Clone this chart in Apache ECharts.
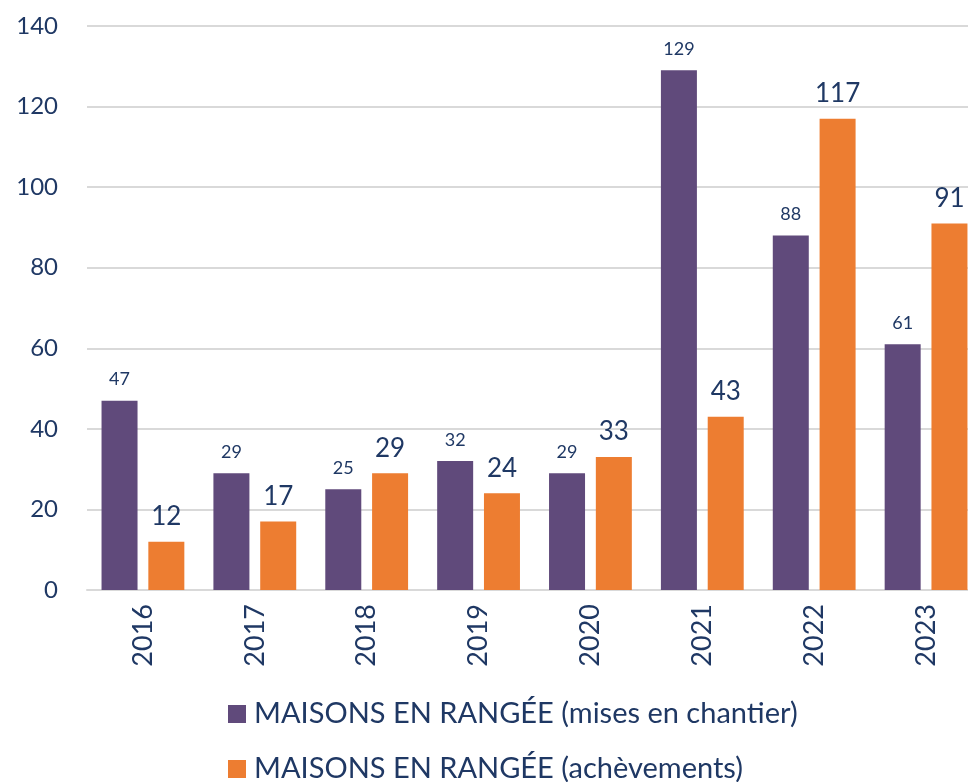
<!DOCTYPE html>
<html>
<head>
<meta charset="utf-8">
<script src="https://cdn.jsdelivr.net/npm/echarts@6/dist/echarts.min.js"></script>
<style>
  html, body { margin: 0; padding: 0; background: #fff; overflow: hidden; }
  #chart { width: 982px; height: 782px; }
</style>
</head>
<body>
<div id="chart"></div>
<script>
var years = ["2016", "2017", "2018", "2019", "2020", "2021", "2022", "2023"];
var misesEnChantier = [47, 29, 25, 32, 29, 129, 88, 61];
var achevements = [12, 17, 29, 24, 33, 43, 117, 91];
var yTicks = [0, 20, 40, 60, 80, 100, 120, 140];
var seriesNames = ["MAISONS EN RANGÉE (mises en chantier)", "MAISONS EN RANGÉE (achèvements)"];

var navy = "#1F3864";
var font = "Lato";

// one legend per line, so the two rows sit exactly where they should
function legendFor(name, top) {
  return {
    orient: "vertical",
    left: 223,
    top: top,
    itemWidth: 18,
    itemHeight: 18,
    icon: "rect",
    textStyle: {
      fontFamily: font,
      fontSize: 29,
      color: navy,
      lineHeight: 30,
      padding: [0, 0, 0, 3]
    },
    data: [name]
  };
}

var chart = echarts.init(document.getElementById("chart"));
chart.setOption({
  animation: false,
  textStyle: { fontFamily: font },
  grid: {
    left: 87,
    right: 0,
    top: 26,
    bottom: 192
  },
  legend: [
    legendFor(seriesNames[0], 694),
    legendFor(seriesNames[1], 749)
  ],
  xAxis: {
    type: "category",
    data: years,
    axisLine: { lineStyle: { color: "#D9D9D9", width: 2 } },
    axisTick: { show: false },
    axisLabel: {
      rotate: 90,
      margin: 14,
      fontSize: 27,
      color: navy,
      fontFamily: font
    }
  },
  yAxis: {
    type: "value",
    min: yTicks[0],
    max: yTicks[yTicks.length - 1],
    interval: 20,
    axisLine: { show: false },
    axisTick: { show: false },
    splitLine: { lineStyle: { color: "#D9D9D9", width: 2 } },
    axisLabel: {
      margin: 29,
      fontSize: 24,
      color: navy,
      fontFamily: font
    }
  },
  series: [
    {
      name: seriesNames[0],
      type: "bar",
      data: misesEnChantier,
      barWidth: 36,
      barGap: "30%",
      itemStyle: { color: "#604A7B" },
      label: {
        show: true,
        position: "top",
        distance: 12,
        fontSize: 18,
        color: navy,
        fontFamily: font
      }
    },
    {
      name: seriesNames[1],
      type: "bar",
      data: achevements,
      barWidth: 36,
      itemStyle: { color: "#ED7D31" },
      label: {
        show: true,
        position: "top",
        distance: 12,
        fontSize: 26,
        color: navy,
        fontFamily: font
      }
    }
  ]
});
</script>
</body>
</html>
